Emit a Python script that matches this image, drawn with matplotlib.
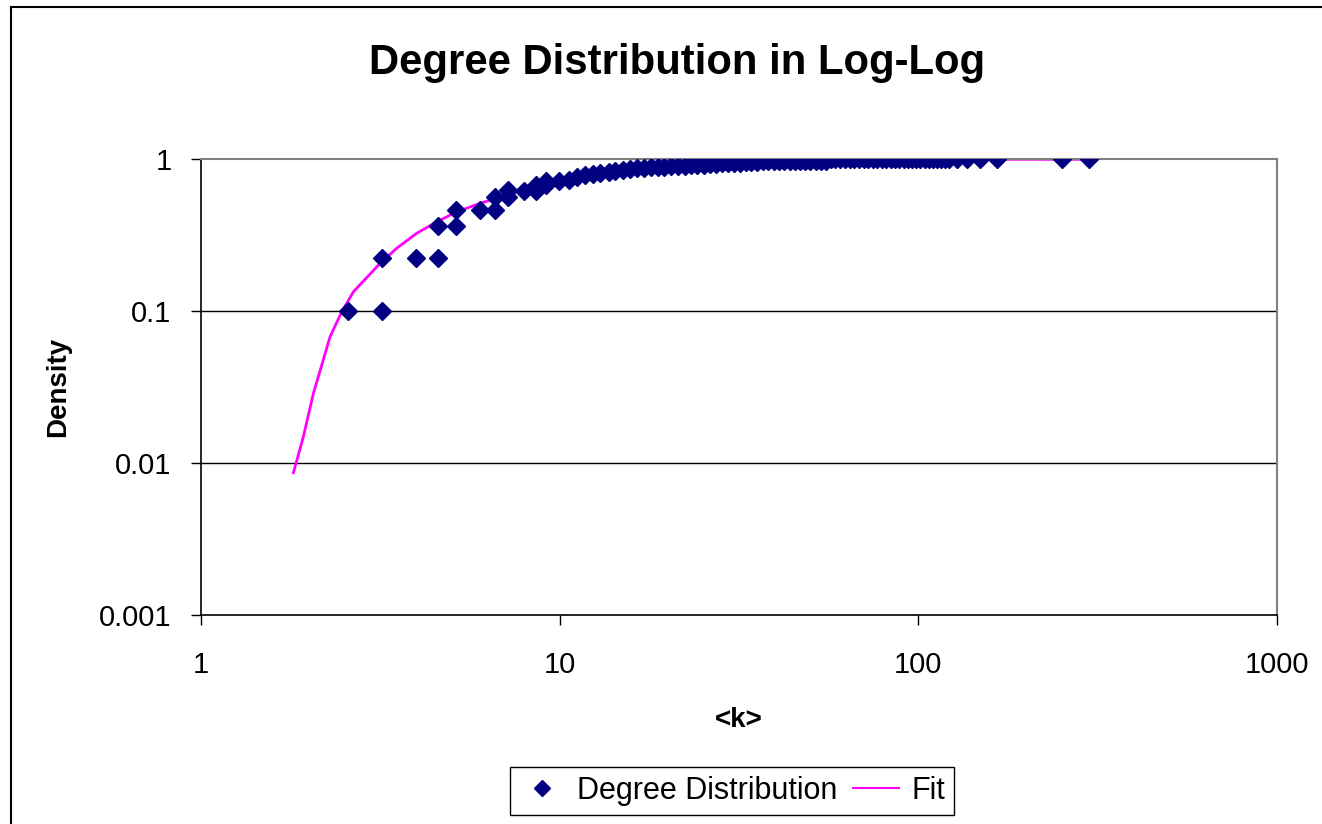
import matplotlib.pyplot as plt
from matplotlib.lines import Line2D

plt.rcParams['font.family'] = ['Liberation Sans', 'DejaVu Sans']

# scatter data
deg_k = [2.57, 3.21, 3.21, 3.99, 4.59, 4.59, 5.16, 5.16, 6.02, 6.59, 6.59, 7.2, 7.2,
         7.97, 8.6, 8.6, 9.15, 9.15, 9.94, 10.6, 11.2,
         11.8, 12.4, 13.0, 13.7, 14.3, 15.0, 15.7, 16.4, 17.2, 18.0, 18.8, 19.6, 20.5,
         21.4, 22.3, 23.2, 24.2, 25.2, 26.2, 27.3, 28.4, 29.5, 30.6, 31.8, 33.0, 34.2,
         35.5, 36.8, 38.1, 39.5, 40.9, 42.3, 43.8, 45.3, 46.8, 48.4, 50.0, 51.7, 53.4,
         55.1, 56.9, 58.7, 60.5, 62.4, 64.3, 66.3, 68.3, 70.4, 72.5, 74.6, 76.8, 79.0,
         81.3, 83.6, 86.0, 88.4, 90.9, 93.4, 96.0, 98.6, 101.3, 104.0, 106.8, 109.6,
         112.5, 115.4, 118.4, 121.4, 128, 137, 148, 165.5, 251, 299]
deg_d = [0.1, 0.1, 0.225, 0.225, 0.225, 0.366, 0.366, 0.467, 0.467, 0.467, 0.565, 0.565, 0.625,
         0.62, 0.62, 0.674, 0.674, 0.72, 0.72, 0.735, 0.77,
         0.79, 0.80, 0.81, 0.83, 0.84, 0.85, 0.86, 0.87, 0.88, 0.885, 0.89, 0.895, 0.90,
         0.905, 0.91, 0.915, 0.92, 0.92, 0.925, 0.93, 0.945, 0.95, 0.95, 0.95, 0.955, 0.955,
         0.96, 0.97, 0.97, 0.97, 0.97, 0.97, 0.975, 0.975, 0.975, 0.975, 0.975, 0.975, 0.975,
         0.975, 1.0, 1.0, 1.0, 1.0, 1.0, 1.0, 1.0, 1.0, 1.0, 1.0, 1.0, 1.0,
         1.0, 1.0, 1.0, 1.0, 1.0, 1.0, 1.0, 1.0, 1.0, 1.0, 1.0, 1.0,
         1.0, 1.0, 1.0, 1.0, 1.0, 1.0, 1.0, 1.0, 1.0, 1.0]

# fit curve
fit_k = [1.813, 1.932, 2.061, 2.294, 2.473, 2.665, 3.162, 3.52, 4.0, 4.55, 5.18, 6.01,
         7.8, 10, 15, 22, 30, 40, 60, 100, 300]
fit_d = [0.00865, 0.0149, 0.0288, 0.068, 0.0993, 0.1344, 0.2067, 0.26, 0.326, 0.388,
         0.452, 0.513, 0.62, 0.72, 0.84, 0.9, 0.945, 0.97, 0.99, 1.0, 1.0]

x_ticks = [1, 10, 100, 1000]
y_ticks = [0.001, 0.01, 0.1, 1]

navy = '#000080'
magenta = '#FF00FF'

fig = plt.figure(figsize=(13.22, 8.24), dpi=100)
ax = fig.add_axes([200.7 / 1322, 1 - 615 / 824, (1277.3 - 200.7) / 1322, (615 - 159.3) / 824])

ax.set_xscale('log')
ax.set_yscale('log')
ax.set_xlim(1, 1000)
ax.set_ylim(0.001, 1)

for y in y_ticks[1:-1]:
    ax.axhline(y, color='black', lw=1, zorder=1)

ax.plot(fit_k, fit_d, color=magenta, lw=2, zorder=2)
ax.plot(deg_k, deg_d, linestyle='none', marker='D', markersize=9.5, color=navy, zorder=3)

ax.set_xticks(x_ticks)
ax.set_xticklabels(['1', '10', '100', '1000'])
ax.set_yticks(y_ticks)
ax.set_yticklabels(['0.001', '0.01', '0.1', '1'])
ax.minorticks_off()
ax.tick_params(axis='both', direction='out', length=7, width=1, color='black', labelsize=21)
ax.tick_params(axis='x', pad=19)
ax.tick_params(axis='y', pad=14)

for s in ['left', 'bottom']:
    ax.spines[s].set_color('black')
    ax.spines[s].set_linewidth(1.2)
for s in ['top', 'right']:
    ax.spines[s].set_color('#808080')
    ax.spines[s].set_linewidth(1.5)

ax.set_xlabel('<k>', fontsize=20, fontweight='bold', labelpad=20)
ax.set_ylabel('Density', fontsize=20, fontweight='bold', labelpad=20)

fig.text(677 / 1322, 1 - 63 / 824, 'Degree Distribution in Log-Log', fontsize=30.2,
         fontweight='bold', ha='center', va='center')

# outer chart border (left and top visible)
fig.add_artist(Line2D([11 / 1322, 11 / 1322], [0, 1 - 7 / 824], transform=fig.transFigure,
                      color='black', lw=1.5))
fig.add_artist(Line2D([11 / 1322, 1], [1 - 7 / 824, 1 - 7 / 824], transform=fig.transFigure,
                      color='black', lw=1.5))

handles = [Line2D([], [], linestyle='none', marker='D', markersize=8.5, color=navy),
           Line2D([], [], color=magenta, lw=1.5)]
leg = fig.legend(handles, ['Degree Distribution', 'Fit'], loc='center',
                 bbox_to_anchor=(732 / 1322, 1 - 791 / 824), ncol=2, fontsize=22,
                 frameon=True, fancybox=False, edgecolor='black', framealpha=1,
                 handlelength=1.5, columnspacing=0.5, handletextpad=0.4, borderpad=0.3)
leg.get_frame().set_linewidth(1)

fig.savefig('out.png', dpi=100)
